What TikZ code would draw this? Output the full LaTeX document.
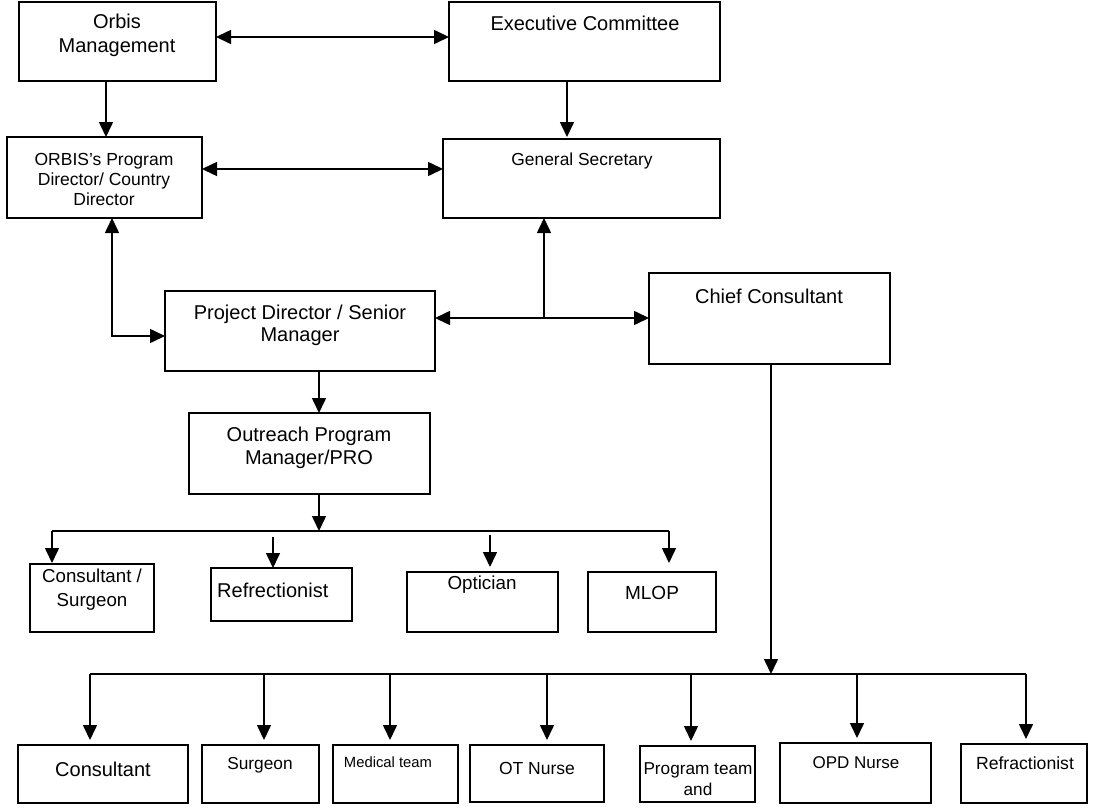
\documentclass[tikz,border=0pt]{standalone}
\usepackage{fontspec}
\setmainfont{Liberation Sans}
\usetikzlibrary{arrows.meta}
\newcommand{\fs}[2]{\fontsize{#1}{#2}\selectfont}
\begin{document}
\begin{tikzpicture}[x=1pt,y=-1pt,
  box/.style={draw,line width=1.6pt,inner sep=0pt,outer sep=0pt},
  txt/.style={inner sep=0pt,align=center},
  con/.style={line width=1.6pt},
  arr/.style={line width=1.6pt,-{Triangle[length=15pt,width=14pt]}},
  darr/.style={line width=1.6pt,{Triangle[length=15pt,width=14pt]}-{Triangle[length=15pt,width=14pt]}}]
\useasboundingbox (0,0) rectangle (1096,808);
% boxes
\node[box,minimum width=197pt,minimum height=79pt] (om) at (117.5,41.5) {};
\node[box,minimum width=271pt,minimum height=79pt] (ec) at (584.5,41.5) {};
\node[box,minimum width=195pt,minimum height=81pt] (opd) at (104.5,177.5) {};
\node[box,minimum width=277pt,minimum height=79pt] (gs) at (581.5,178.5) {};
\node[box,minimum width=270pt,minimum height=80pt] (pdsm) at (300,331) {};
\node[box,minimum width=241pt,minimum height=91pt] (cc) at (769.5,318.5) {};
\node[box,minimum width=241pt,minimum height=81pt] (opm) at (309.5,453.5) {};
\node[box,minimum width=124pt,minimum height=68pt] (cs) at (92,598) {};
\node[box,minimum width=141pt,minimum height=53pt] (rf1) at (281.5,594.5) {};
\node[box,minimum width=151pt,minimum height=60pt] (opt) at (482.5,602) {};
\node[box,minimum width=128pt,minimum height=60pt] (mlop) at (652,602) {};
\node[box,minimum width=170pt,minimum height=58pt] (cons) at (103,774) {};
\node[box,minimum width=117pt,minimum height=58pt] (sur) at (260.5,774) {};
\node[box,minimum width=125pt,minimum height=58pt] (med) at (395.5,774) {};
\node[box,minimum width=134pt,minimum height=57pt] (otn) at (537,773.5) {};
\node[box,minimum width=115pt,minimum height=56pt] (prg) at (697.5,774) {};
\node[box,minimum width=151pt,minimum height=60pt] (opdn) at (855.5,773) {};
\node[box,minimum width=126pt,minimum height=59pt] (rf2) at (1024,773.5) {};
% texts
\node[txt,font=\fs{20}{24}] (tom) at (117,35) {Orbis\\Management};
\node[txt,font=\fs{20}{24}] (tec) at (585,23) {Executive Committee};
\node[txt,font=\fs{17.5}{20}] (topd) at (104,179) {ORBIS’s Program\\Director/ Country\\Director};
\node[txt,font=\fs{17.4}{20}] (tgs) at (582,161) {General Secretary};
\node[txt,font=\fs{20}{22}] (tpdsm) at (300,325) {Project Director / Senior\\Manager};
\node[txt,font=\fs{20}{24}] (tcc) at (769,296) {Chief Consultant};
\node[txt,font=\fs{20}{23}] (topm) at (309,447.5) {Outreach Program\\Manager/PRO};
\node[txt,font=\fs{18.7}{24}] (tcs) at (92,590) {Consultant /\\Surgeon};
\node[txt,font=\fs{20}{24},anchor=west] (trf1) at (217,590) {Refrectionist};
\node[txt,font=\fs{18.8}{24}] (topt) at (482,585) {Optician};
\node[txt,font=\fs{19}{24}] (tmlop) at (652,593) {MLOP};
\node[txt,font=\fs{20}{24}] (tcons) at (103,769) {Consultant};
\node[txt,font=\fs{17.3}{20}] (tsur) at (260,765) {Surgeon};
\node[txt,font=\fs{14.8}{18}] (tmed) at (388,762) {Medical team};
\node[txt,font=\fs{17.5}{20}] (totn) at (537,768) {OT Nurse};
\node[txt,font=\fs{17.2}{21}] (tprg) at (698,779.5) {Program team\\and};
\node[txt,font=\fs{17}{20}] (topdn) at (856,763) {OPD Nurse};
\node[txt,font=\fs{17.6}{20}] (trf2) at (1025,763) {Refractionist};
% junction coordinates
\coordinate (r1) at (0,37);
\coordinate (r2) at (0,169);
\coordinate (j1) at (544,318);
\coordinate (c1) at (112,336);
\coordinate (ob) at (319,531);
\coordinate (obl) at (52,531);
\coordinate (obr) at (669,531);
\coordinate (rfs) at (273,537);
\coordinate (ops) at (490,535);
\coordinate (cb) at (771,674);
\coordinate (bl) at (90,674);
\coordinate (br) at (1026,674);
% top connectors
\draw[darr] (om.east |- r1) -- (ec.west |- r1);
\draw[arr] (om.south -| 106,0) -- (opd.north -| 106,0);
\draw[arr] (ec.south -| 567,0) -- ([yshift=2pt]gs.north -| 567,0);
\draw[darr] (opd.east |- r2) -- (gs.west |- r2);
\draw[darr] (opd.south -| c1) -- (c1) -- (pdsm.west |- c1);
\draw[darr] (pdsm.east |- j1) -- (cc.west |- j1);
\draw[arr] (j1) -- (gs.south -| j1);
\draw[arr] (pdsm.south -| ob) -- (opm.north -| ob);
% outreach bus
\draw[con] (obl) -- (obr);
\draw[arr] (opm.south -| ob) -- (ob);
\draw[arr] (obl) -- ([yshift=1pt]cs.north -| obl);
\draw[arr] (rfs) -- (rf1.north -| rfs);
\draw[arr] (ops) -- ([yshift=5pt]opt.north -| ops);
\draw[arr] (obr) -- ([yshift=9pt]mlop.north -| obr);
% chief bus
\draw[con] (bl) -- (br);
\draw[arr] (cc.south -| cb) -- (cb);
\foreach \n/\x in {cons/90,sur/264,med/390,otn/547,prg/691,opdn/857,rf2/1026}
  \draw[arr] (\x,674) -- ([yshift=5pt]\n.north -| \x,0);
\end{tikzpicture}
\end{document}
